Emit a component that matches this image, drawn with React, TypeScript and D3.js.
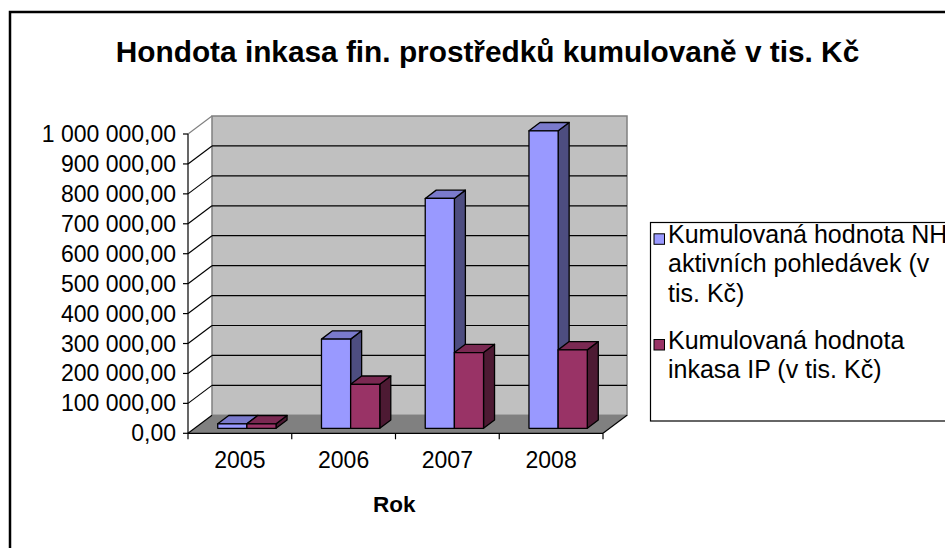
import React from "react";
import * as d3 from "d3";

const categories = ["2005", "2006", "2007", "2008"];
const seriesNames = [
  ["Kumulovaná hodnota NH", "aktivních pohledávek (v", "tis. Kč)"],
  ["Kumulovaná hodnota", "inkasa IP (v tis. Kč)"],
];
const nhValues = [15000, 298000, 768000, 994000];
const ipValues = [15000, 147000, 253000, 262000];
const yTickValues = [0, 100000, 200000, 300000, 400000, 500000, 600000, 700000, 800000, 900000, 1000000];
const titleText = "Hondota inkasa fin. prostředků kumulovaně v tis. Kč";
const xAxisTitle = "Rok";

const colors = [
  { front: "#9999FF", top: "#7A7ACC", side: "#4D4D80" },
  { front: "#993366", top: "#7A2952", side: "#4D1A33" },
];

const FONT = "'Liberation Sans', Arial, sans-serif";

export default function App() {
  const x0 = 188, x1 = 603;
  const y0 = 433.3, y1 = 134;
  const D = { x: 24, y: -18 };
  const off = { x: 6.7, y: -5 };
  const bd = { x: 11, y: -8.3 };

  const xScale = d3.scaleBand<string>().domain(categories).range([x0, x1]).paddingInner(0).paddingOuter(0);
  const bw = xScale.bandwidth();
  const groupStart = bw * 0.222;
  const groupW = bw * 0.562;
  const inner = d3.scaleBand<number>().domain([0, 1]).range([groupStart, groupStart + groupW]).padding(0);
  const yScale = d3.scaleLinear().domain([0, 1000000]).range([y0, y1]);

  const locale = d3.formatLocale({ decimal: ",", thousands: " ", grouping: [3], currency: ["", " Kč"] });
  const fmt = locale.format(",.2f");

  const series = [nhValues, ipValues];

  const bars: JSX.Element[] = [];
  categories.forEach((c, i) => {
    series.forEach((vals, j) => {
      const x = (xScale(c) as number) + off.x + (inner(j) as number);
      const w = inner.bandwidth();
      const yB = y0 + off.y;
      const yT = yScale(vals[i]) + off.y;
      const col = colors[j];
      const top = `M${x},${yT}L${x + w},${yT}L${x + w + bd.x},${yT + bd.y}L${x + bd.x},${yT + bd.y}Z`;
      const side = `M${x + w},${yT}L${x + w + bd.x},${yT + bd.y}L${x + w + bd.x},${yB + bd.y}L${x + w},${yB}Z`;
      bars.push(
        <g key={`${c}-${j}`} stroke="#000" strokeWidth={1.3} strokeLinejoin="round">
          <path d={side} fill={col.side} />
          <path d={top} fill={col.top} />
          <rect x={x} y={yT} width={w} height={yB - yT} fill={col.front} />
        </g>
      );
    });
  });

  const bx0 = x0 + D.x, bx1 = x1 + D.x;
  const byTop = y1 + D.y, byBot = y0 + D.y;

  const legendLines: { text: string; y: number }[][] = [
    [{ text: seriesNames[0][0], y: 243.3 }, { text: seriesNames[0][1], y: 272 }, { text: seriesNames[0][2], y: 301.5 }],
    [{ text: seriesNames[1][0], y: 349 }, { text: seriesNames[1][1], y: 378.3 }],
  ];

  return (
    <svg width={945} height={548} style={{ position: "absolute", left: 0, top: 0, background: "#fff" }} fontFamily={FONT}>
      <rect x={10} y={12} width={960} height={560} fill="#fff" stroke="#000" strokeWidth={2.5} />
      <text x={487.5} y={61.7} textAnchor="middle" fontWeight="bold" fontSize={29.8}>{titleText}</text>

      {/* back wall */}
      <rect x={bx0} y={byTop} width={bx1 - bx0} height={byBot - byTop} fill="#C0C0C0" stroke="#808080" strokeWidth={1.5} />
      {/* floor */}
      <path d={`M${x0},${y0}L${x1},${y0}L${bx1},${byBot}L${bx0},${byBot}Z`} fill="#808080" />
      {/* gridlines */}
      {yTickValues.map((v) => {
        const yf = yScale(v);
        const isTop = v === 1000000;
        return (
          <g key={v}>
            {v !== 0 && !isTop && <line x1={bx0} x2={bx1} y1={yf + D.y} y2={yf + D.y} stroke="#000" strokeWidth={1.2} />}
            <line x1={x0} y1={yf} x2={x0 + D.x} y2={yf + D.y} stroke={isTop ? "#808080" : "#000"} strokeWidth={1.2} />
            <line x1={x0 - 5} x2={x0} y1={yf} y2={yf} stroke="#000" strokeWidth={1.2} />
            <text x={176} y={yf} dy="0.35em" textAnchor="end" fontSize={23}>{fmt(v)}</text>
          </g>
        );
      })}
      {/* floor right edge */}
      <line x1={x1} y1={y0} x2={bx1} y2={byBot} stroke="#000" strokeWidth={1.2} />
      {/* y axis */}
      <line x1={x0} x2={x0} y1={y1} y2={y0} stroke="#000" strokeWidth={1.2} />
      {/* x axis */}
      <line x1={x0} x2={x1} y1={y0} y2={y0} stroke="#000" strokeWidth={1.2} />
      {[...categories.map((c) => xScale(c) as number), x1].map((x, k) => (
        <line key={k} x1={x} x2={x} y1={y0} y2={y0 + 6} stroke="#000" strokeWidth={1.2} />
      ))}
      {categories.map((c) => (
        <text key={c} x={(xScale(c) as number) + bw / 2} y={467.7} textAnchor="middle" fontSize={23}>{c}</text>
      ))}
      <text x={394.3} y={511.7} textAnchor="middle" fontWeight="bold" fontSize={22.5}>{xAxisTitle}</text>

      {bars}

      {/* legend */}
      <rect x={650.5} y={222.5} width={400} height={198.5} fill="#fff" stroke="#000" strokeWidth={1.2} />
      {legendLines.map((lines, j) => (
        <g key={j}>
          <rect x={654} y={lines[0].y - 9.5} width={10.5} height={10.5} fill={colors[j].front} stroke="#000" strokeWidth={1} />
          {lines.map((l, k) => (
            <text key={k} x={668} y={l.y} fontSize={25}>{l.text}</text>
          ))}
        </g>
      ))}
    </svg>
  );
}
